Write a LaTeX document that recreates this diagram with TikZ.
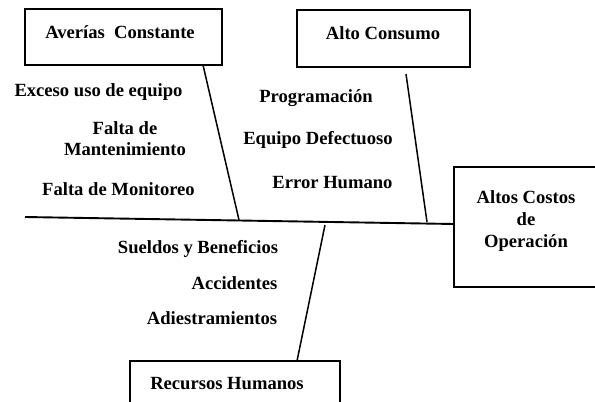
\documentclass[tikz,border=0pt]{standalone}
\usepackage{fontspec}
\setmainfont{Liberation Serif}
\begin{document}
\begin{tikzpicture}[x=1pt,y=-1pt,
  lbl/.style={font=\bfseries\fontsize{18.6}{21}\selectfont, inner sep=0pt, anchor=base},
  mlbl/.style={font=\bfseries\fontsize{18.6}{21}\selectfont, inner sep=0pt, align=center},
  box/.style={draw, line width=1.6pt, inner sep=0pt},
  bone/.style={line width=1.5pt},
  spine/.style={line width=1.9pt}]
\useasboundingbox (0,0) rectangle (595,402);
\clip (0,0) rectangle (595,402);

% boxes
\node[box, minimum width=197pt, minimum height=56pt] (ave) at (123.5,37) {};
\node[lbl] (aveT) at (120,38.3) {Averías\ \ Constante};
\node[box, minimum width=173pt, minimum height=57pt] (alto) at (383.5,38.5) {};
\node[lbl] (altoT) at (383,39.3) {Alto Consumo};
\node[box, minimum width=150pt, minimum height=120pt] (eff) at (529,227) {};
\node[mlbl, font=\bfseries\fontsize{18.6}{22}\selectfont] (effT) at (526,221) {Altos Costos\\de\\Operación};
\node[box, minimum width=210pt, minimum height=60pt] (rh) at (235,391) {};
\node[lbl] (rhT) at (227,389.3) {Recursos Humanos};

% cause labels
\node[lbl] (c1) at (98.5,96.3) {Exceso uso de equipo};
\node[mlbl] (c2) at (125,138.4) {Falta de\\Mantenimiento};
\node[lbl] (c3) at (118.5,195.3) {Falta de Monitoreo};
\node[lbl] (c4) at (316,102.3) {Programación};
\node[lbl] (c5) at (318,144.3) {Equipo Defectuoso};
\node[lbl] (c6) at (332.5,188.3) {Error Humano};
\node[lbl] (c7) at (198,253.3) {Sueldos y Beneficios};
\node[lbl] (c8) at (234.5,289.3) {Accidentes};
\node[lbl] (c9) at (212,324.3) {Adiestramientos};

% connector ends
\coordinate (sL) at (25,217);
\coordinate (sR) at (454,224);
\coordinate (aTop) at (203,65);
\coordinate (aBot) at (239,220);
\coordinate (bTop) at (406,74);
\coordinate (bBot) at (427,222);
\coordinate (rTop) at (325,225);
\coordinate (rBot) at (297,361);

\draw[spine] (sL) -- (sR);
\draw[bone] (aTop) -- (aBot);
\draw[bone] (bTop) -- (bBot);
\draw[bone] (rTop) -- (rBot);
\end{tikzpicture}
\end{document}
